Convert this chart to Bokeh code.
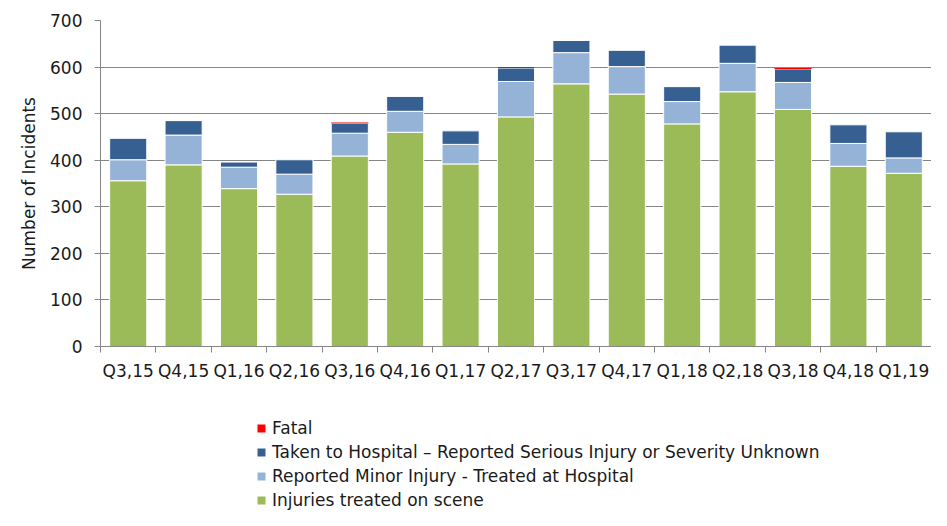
from bokeh.plotting import figure
from bokeh.layouts import column
from bokeh.models import ColumnDataSource, FixedTicker, Legend, LegendItem, Range1d
from bokeh.embed import file_html
from bokeh.resources import INLINE

quarters = ["Q3,15", "Q4,15", "Q1,16", "Q2,16", "Q3,16", "Q4,16", "Q1,17", "Q2,17",
            "Q3,17", "Q4,17", "Q1,18", "Q2,18", "Q3,18", "Q4,18", "Q1,19"]
scene = [356, 390, 339, 327, 409, 460, 392, 493, 564, 542, 478, 547, 509, 387, 372]
minor = [45, 64, 46, 43, 49, 45, 42, 76, 67, 59, 48, 61, 58, 49, 33]
serious = [46, 31, 11, 31, 21, 32, 29, 29, 26, 35, 32, 39, 29, 40, 56]
fatal = [0, 0, 0, 0, 2, 0, 0, 2, 0, 0, 0, 0, 2, 0, 0]
y_ticks = [0, 100, 200, 300, 400, 500, 600, 700]

series_names = ["Injuries treated on scene",
                "Reported Minor Injury - Treated at Hospital",
                "Taken to Hospital \u2013 Reported Serious Injury or Severity Unknown",
                "Fatal"]
colors = ["#9BBB59", "#95B3D7", "#366092", "#FF0000"]

n = len(quarters)
xs = [i + 0.5 for i in range(n)]
bounds = list(range(n + 1))

src = ColumnDataSource(dict(x=xs, scene=scene, minor=minor, serious=serious, fatal=fatal))

FONT = "DejaVu Sans"
FS = "17px"
TXT = "#1a1a1a"
GRAY = "#868686"

p = figure(width=931, height=400, output_backend="svg", toolbar_location=None,
           x_range=Range1d(0, n), y_range=Range1d(0, 700),
           min_border_left=100, min_border_right=0, min_border_top=20,
           min_border_bottom=54)
p.outline_line_color = None

rs = p.vbar_stack(["scene", "minor", "serious", "fatal"], x="x", width=0.67,
                  color=colors, line_color=["white", "white", "white", None],
                  line_width=1, source=src)

# x axis: labels at bar centres, tick marks between categories
xa = p.xaxis[0]
xa.ticker = FixedTicker(ticks=xs, minor_ticks=bounds)
xa.major_label_overrides = {x: q for x, q in zip(xs, quarters)}
xa.major_tick_line_color = None
xa.major_tick_out = 0
xa.major_tick_in = 0
xa.minor_tick_out = 6
xa.minor_tick_in = 0
xa.minor_tick_line_color = GRAY
xa.axis_line_color = GRAY
xa.major_label_standoff = 8
xa.major_label_text_font = FONT
xa.major_label_text_font_size = FS
xa.major_label_text_color = TXT

ya = p.yaxis[0]
ya.ticker = FixedTicker(ticks=y_ticks, minor_ticks=[])
ya.major_tick_out = 6
ya.major_tick_in = 0
ya.major_tick_line_color = GRAY
ya.axis_line_color = GRAY
ya.major_label_standoff = 12
ya.major_label_text_font = FONT
ya.major_label_text_font_size = FS
ya.major_label_text_color = TXT
ya.axis_label = "Number of Incidents"
ya.axis_label_text_font = FONT
ya.axis_label_text_font_size = FS
ya.axis_label_text_font_style = "normal"
ya.axis_label_text_color = TXT
ya.axis_label_standoff = 8

p.xgrid.grid_line_color = None
p.ygrid.ticker = FixedTicker(ticks=y_ticks)
p.ygrid.grid_line_color = GRAY
p.ygrid.grid_line_width = 1

# legend panel underneath the chart (key glyphs drawn off-range)
lg = figure(width=931, height=110, output_backend="svg", toolbar_location=None,
            x_range=Range1d(0, 1), y_range=Range1d(0, 1),
            min_border_left=100, min_border_right=0, min_border_top=0, min_border_bottom=0)
lg.axis.visible = False
lg.grid.visible = False
lg.outline_line_color = None
keys = []
for c in colors:
    ks = ColumnDataSource(dict(x=[-5.0], top=[-5.0]))
    keys.append(lg.vbar(x="x", top="top", bottom=-6.0, width=0.5,
                        fill_color=c, line_color=None, source=ks))

items = [LegendItem(label=name, renderers=[r]) for name, r in zip(series_names, keys)][::-1]
legend = Legend(items=items, location=(156, 0), orientation="vertical",
                border_line_color=None, background_fill_alpha=0,
                label_text_font=FONT, label_text_font_size=FS, label_text_color=TXT,
                glyph_width=10, glyph_height=10, label_standoff=6,
                label_height=18, spacing=4, padding=0, margin=0)
lg.add_layout(legend, "center")

open("out.html", "w").write(file_html(column(p, lg, spacing=0), INLINE))
